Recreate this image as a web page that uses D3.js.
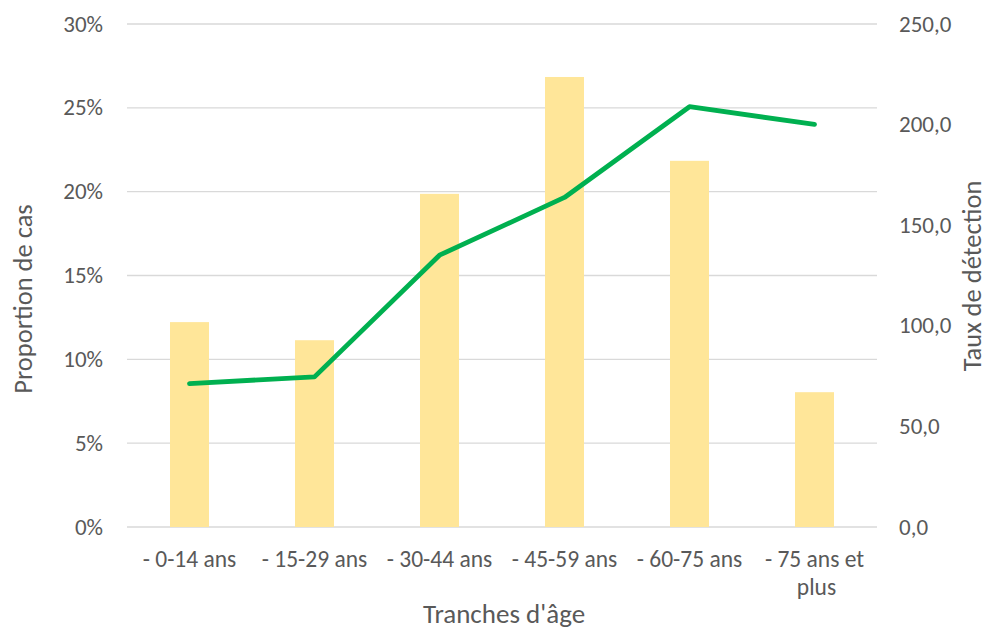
<!DOCTYPE html>
<html>
<head>
<meta charset="utf-8">
<script src="https://cdn.jsdelivr.net/npm/d3@7"></script>
<style>
  body { margin: 0; background: #fff; }
  text { font-family: Carlito, Calibri, Lato, "Open Sans", sans-serif; fill: #595959; }
</style>
</head>
<body>
<svg id="chart" width="987" height="631"></svg>
<script>
const categories = ["- 0-14 ans", "- 15-29 ans", "- 30-44 ans", "- 45-59 ans", "- 60-75 ans", "- 75 ans et plus"];
const proportion = [12.22, 11.14, 19.87, 26.84, 21.84, 8.04];
const tauxDetection = [71.3, 74.6, 135.1, 163.8, 208.9, 200.1];
const leftTicks = [0, 5, 10, 15, 20, 25, 30];
const rightTicks = [0, 50, 100, 150, 200, 250];

(function () {
const svg = d3.select("#chart");
const pLeft = 127, pRight = 877, pTop = 24, pBottom = 527;

const x = d3.scalePoint().domain(categories).range([pLeft, pRight]).padding(0.5);
const step = x.step();
const barW = step * 0.312;
const yL = d3.scaleLinear().domain([0, 30]).range([pBottom, pTop]);
const yR = d3.scaleLinear().domain([0, 250]).range([pBottom, pTop]);

// gridlines
svg.append("g").selectAll("line").data(leftTicks).join("line")
  .attr("x1", pLeft).attr("x2", pRight)
  .attr("y1", d => yL(d)).attr("y2", d => yL(d))
  .attr("stroke", "#d9d9d9").attr("stroke-width", 1.3);

// bars
svg.append("g").selectAll("rect").data(proportion).join("rect")
  .attr("x", (d, i) => x(categories[i]) - barW / 2)
  .attr("width", barW)
  .attr("y", d => yL(d))
  .attr("height", d => yL(0) - yL(d))
  .attr("fill", "#ffe699");

// line
const line = d3.line().x((d, i) => x(categories[i])).y(d => yR(d));
svg.append("path").datum(tauxDetection)
  .attr("d", line)
  .attr("fill", "none")
  .attr("stroke", "#00b050")
  .attr("stroke-width", 4.8)
  .attr("stroke-linecap", "round")
  .attr("stroke-linejoin", "round");

const fs = 23;
// left ticks
svg.append("g").selectAll("text").data(leftTicks).join("text")
  .attr("x", 103).attr("y", d => yL(d)).attr("dy", "0.33em")
  .attr("text-anchor", "end").attr("font-size", fs)
  .text(d => d + "%");

// right ticks
svg.append("g").selectAll("text").data(rightTicks).join("text")
  .attr("x", 899).attr("y", d => yR(d)).attr("dy", "0.33em")
  .attr("text-anchor", "start").attr("font-size", fs)
  .text(d => d3.format(".1f")(d).replace(".", ","));

// x labels
const xl = svg.append("g").selectAll("text").data(categories).join("text")
  .attr("x", d => x(d)).attr("y", 567)
  .attr("text-anchor", "middle").attr("font-size", 23.5);
xl.each(function(d) {
  const t = d3.select(this);
  if (d === "- 75 ans et plus") {
    t.append("tspan").attr("x", x(d)).attr("dy", 0).text("- 75 ans et");
    t.append("tspan").attr("x", x(d) + 2).attr("dy", 28).text("plus");
  } else {
    t.text(d);
  }
});

// axis titles
svg.append("text").attr("x", 504).attr("y", 623).attr("text-anchor", "middle")
  .attr("font-size", 27).text("Tranches d'âge");
svg.append("text").attr("transform", "translate(32,299) rotate(-90)")
  .attr("text-anchor", "middle").attr("font-size", 26.5).text("Proportion de cas");
svg.append("text").attr("transform", "translate(981,276) rotate(-90)")
  .attr("text-anchor", "middle").attr("font-size", 26.5).text("Taux de détection");
})();
</script>
</body>
</html>
